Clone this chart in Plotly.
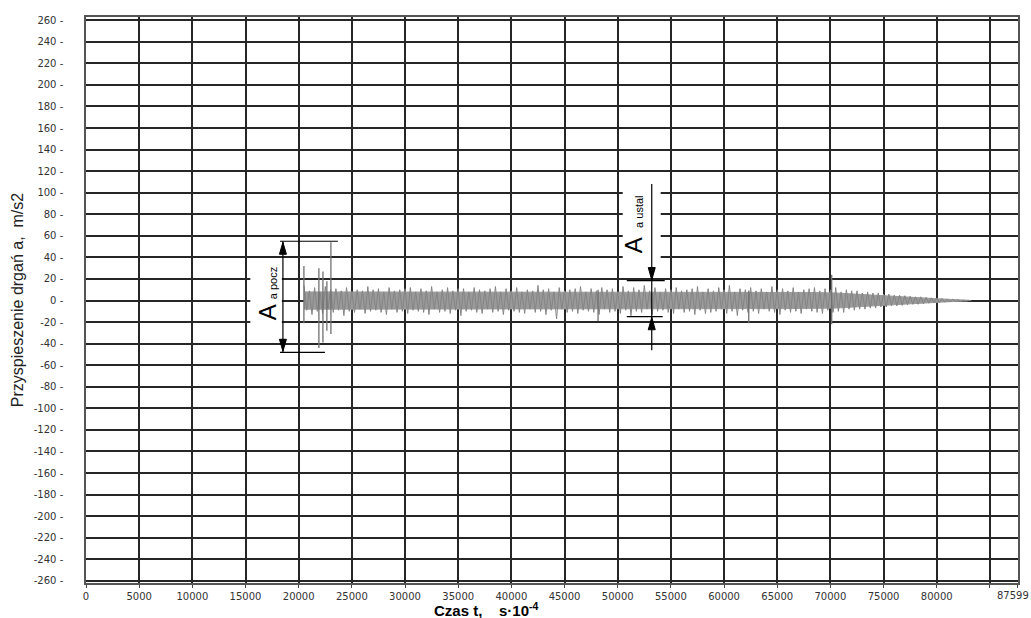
import plotly.graph_objects as go

# ---------------- data ----------------
x_tick_vals = [0, 5000, 10000, 15000, 20000, 25000, 30000, 35000, 40000,
               45000, 50000, 55000, 60000, 65000, 70000, 75000, 80000, 85000, 87599]
x_tick_text = ["0", "5000", "10000", "15000", "20000", "25000", "30000", "35000", "40000",
               "45000", "50000", "55000", "60000", "65000", "70000", "75000", "80000", "", "87599"]
y_tick_vals = [260, 240, 220, 200, 180, 160, 140, 120, 100, 80, 60, 40, 20, 0,
               -20, -40, -60, -80, -100, -120, -140, -160, -180, -200, -220, -240, -260]

# signal peaks (at peak_t) and troughs (at trough_t), every 500 time units
peak_t = list(range(20500, 83001, 500))
trough_t = list(range(20750, 83251, 500))
peak_val = [14, 9, 12, 8, 13, 10, 11, 9, 12, 8,
            10, 9, 13, 10, 11, 8, 12, 9, 10, 11,
            12, 8, 11, 9, 13, 8, 10, 12, 9, 11,
            11, 8, 12, 10, 9, 11, 13, 8, 11, 9,
            12, 8, 10, 9, 14, 10, 11, 8, 12, 9,
            10, 11, 13, 8, 11, 9, 12, 10, 11, 8,
            13, 9, 12, 10, 14, 9, 12, 8, 11, 10,
            12, 9, 10, 11, 13, 8, 11, 9, 12, 10,
            14, 8, 11, 10, 12, 9, 11, 8, 13, 10,
            11, 9, 12, 8, 10, 11, 12, 9, 11, 10,
            12, 8, 10, 9, 9, 7, 8, 7, 7, 6,
            6, 5, 5, 4.5, 4, 3.5, 3.5, 3, 2.5, 2,
            2, 1.5, 1.2, 0.8, 0.5, 0.2]
trough_val = [-9, -13, -10, -12, -8, -11, -9, -14, -10, -11,
              -8, -12, -10, -9, -11, -13, -8, -11, -10, -12,
              -9, -10, -11, -13, -8, -11, -10, -12, -9, -14,
              -10, -9, -11, -12, -8, -11, -10, -13, -9, -10,
              -11, -12, -8, -11, -10, -13, -9, -17, -8, -11,
              -10, -12, -9, -10, -11, -13, -8, -11, -10, -12,
              -9, -14, -10, -11, -8, -13, -10, -9, -11, -12,
              -8, -11, -10, -13, -9, -12, -11, -10, -8, -12,
              -10, -14, -9, -11, -10, -12, -8, -10, -11, -13,
              -9, -11, -10, -12, -8, -10, -11, -12, -9, -11,
              -10, -11, -8, -9, -8, -8, -7, -7, -6, -6,
              -5, -5, -4.5, -4, -3.5, -3.5, -3, -2.5, -2, -2,
              -1.5, -1.2, -1, -0.6, -0.4, -0.2]

# dense core of the signal band
core_t = [20500, 23000, 25500, 28000, 30500, 33000, 35500, 38000, 40500, 43000,
          45500, 48000, 50500, 53000, 55500, 58000, 60500, 63000, 65500, 68000,
          70500, 73000, 75500, 78000, 80500, 83000]
core_hi = [8, 8, 7.5, 7.5, 7.5, 7.5, 7.5, 7.5, 7.5, 7.5, 7.5, 7.5, 8, 8, 7.5, 7.5,
           7.5, 7.5, 7.5, 7.5, 7, 5.5, 4, 2.6, 1.4, 0.2]
core_lo = [-8, -8, -7.5, -7.5, -7.5, -7.5, -7.5, -7.5, -7.5, -7.5, -7.5, -7.5, -8, -8,
           -7.5, -7.5, -7.5, -7.5, -7.5, -7.5, -7, -5.5, -4, -2.6, -1.4, -0.2]

# isolated spikes
spike_t = [20490, 21900, 22280, 22650, 23030, 48150, 62320, 70120]
spike_hi = [32, 30, 27, 18, 54, 10, 9, 24]
spike_lo = [-21, -44, -39, -28, -31, -19, -21, -22]

# annotation geometry (data units)
pocz_t, pocz_top, pocz_bot = 18517, 55, -48
pocz_left, pocz_right_top, pocz_right_bot = 18240, 23690, 22470
ustal_t, ustal_hi, ustal_lo = 53200, 18.5, -15
ustal_line_top, ustal_line_bot = 108, -46
ustal_left, ustal_right_top, ustal_right_bot = 50850, 54420, 54230

# ---------------- figure ----------------
fig = go.Figure()

fig.add_trace(go.Scatter(x=core_t + core_t[::-1], y=core_hi + core_lo[::-1], mode="lines",
                         fill="toself", fillcolor="#9a9a9a", line=dict(color="#9a9a9a", width=1),
                         hoverinfo="skip"))

zx, zy = [], []
for tp, vp, tt, vt in zip(peak_t, peak_val, trough_t, trough_val):
    zx += [tp, tt]
    zy += [vp, vt]
fig.add_trace(go.Scatter(x=zx, y=zy, mode="lines",
                         line=dict(color="#858585", width=1), hoverinfo="skip"))

sx, sy = [], []
for t, hi, lo in zip(spike_t, spike_hi, spike_lo):
    sx += [t, t, None]
    sy += [hi, lo, None]
fig.add_trace(go.Scatter(x=sx, y=sy, mode="lines",
                         line=dict(color="#707070", width=1.3), hoverinfo="skip"))

px_per_t = 932 / 87640.0
px_per_y = 565.5 / 525.0
hw = 3.5 / px_per_t
ah = 13 / px_per_y

shapes = []
shapes.append(dict(type="rect", layer="between", x0=15450, x1=18420, y0=-28, y1=35,
                   fillcolor="white", line=dict(width=0)))
shapes.append(dict(type="rect", layer="between", x0=50470, x1=54040, y0=31, y1=110,
                   fillcolor="white", line=dict(width=0)))

blk = dict(color="black", width=1.2)
shapes += [
    dict(type="line", x0=pocz_t, x1=pocz_t, y0=pocz_bot, y1=pocz_top, line=blk),
    dict(type="line", x0=pocz_left, x1=pocz_right_top, y0=pocz_top, y1=pocz_top, line=blk),
    dict(type="line", x0=pocz_left, x1=pocz_right_bot, y0=pocz_bot, y1=pocz_bot, line=blk),
    dict(type="path", path=f"M {pocz_t-hw},{pocz_top-ah} L {pocz_t},{pocz_top-1} L {pocz_t+hw},{pocz_top-ah} Z",
         fillcolor="black", line=dict(color="black", width=1)),
    dict(type="path", path=f"M {pocz_t-hw},{pocz_bot+ah} L {pocz_t},{pocz_bot+1} L {pocz_t+hw},{pocz_bot+ah} Z",
         fillcolor="black", line=dict(color="black", width=1)),
    dict(type="line", x0=ustal_t, x1=ustal_t, y0=ustal_line_bot, y1=ustal_line_top, line=blk),
    dict(type="line", x0=ustal_left, x1=ustal_right_top, y0=ustal_hi, y1=ustal_hi, line=blk),
    dict(type="line", x0=ustal_left, x1=ustal_right_bot, y0=ustal_lo, y1=ustal_lo, line=blk),
    dict(type="path", path=f"M {ustal_t-hw},{ustal_hi+ah} L {ustal_t},{ustal_hi+0.5} L {ustal_t+hw},{ustal_hi+ah} Z",
         fillcolor="black", line=dict(color="black", width=1)),
    dict(type="path", path=f"M {ustal_t-hw},{ustal_lo-ah} L {ustal_t},{ustal_lo-0.5} L {ustal_t+hw},{ustal_lo-ah} Z",
         fillcolor="black", line=dict(color="black", width=1)),
]

font_ar = "Liberation Sans, Arial, sans-serif"
tickfont = dict(family="DejaVu Sans, Verdana, sans-serif", size=10, color="#333333")

# last tick label is placed as an annotation so that it stays inside the page
axis_tick_text = x_tick_text[:-1] + [""]

annotations = [
    dict(x=17013, y=-11, text="A", textangle=-90, showarrow=False,
         font=dict(family=font_ar, size=24, color="black")),
    dict(x=17577, y=16, text="a pocz", textangle=-90, showarrow=False,
         font=dict(family=font_ar, size=11, color="black")),
    dict(x=51508, y=51, text="A", textangle=-90, showarrow=False,
         font=dict(family=font_ar, size=24, color="black")),
    dict(x=51978, y=82, text="a ustal", textangle=-90, showarrow=False,
         font=dict(family=font_ar, size=11, color="black")),
    dict(x=x_tick_vals[-1], xref="x", y=0, yref="paper", text=x_tick_text[-1],
         xanchor="right", yanchor="top", xshift=13, yshift=-5, showarrow=False,
         font=tickfont),
    dict(xref="paper", yref="paper", x=0.43, y=-0.047, yanchor="middle",
         text="<b>Czas t,\u00a0\u00a0\u00a0\u00a0s\u00b710<sup>-4</sup></b>", showarrow=False,
         font=dict(family=font_ar, size=15, color="black")),
]

fig.update_layout(
    width=1031, height=618,
    margin=dict(l=86, r=13, t=17, b=35, autoexpand=False),
    paper_bgcolor="white", plot_bgcolor="white",
    showlegend=False, shapes=shapes, annotations=annotations,
)
fig.update_xaxes(range=[0, 87640], tickmode="array", tickvals=x_tick_vals, ticktext=axis_tick_text,
                 showgrid=True, gridcolor="#262626", gridwidth=1.6, zeroline=False,
                 showline=True, mirror=True, linecolor="#555555", linewidth=1.5,
                 ticks="outside", ticklen=3, tickcolor="#444444", tickwidth=1,
                 tickfont=tickfont, automargin=False)
fig.update_yaxes(range=[-262, 263], tickmode="array", tickvals=y_tick_vals,
                 ticktext=[f"{v} -" for v in y_tick_vals],
                 showgrid=True, gridcolor="#262626", gridwidth=1.6, zeroline=False,
                 showline=True, mirror=True, linecolor="#555555", linewidth=1.5,
                 ticks="", ticklabelstandoff=19, tickfont=tickfont, automargin=False,
                 title=dict(text="Przyspieszenie drgań a,  m/s2", standoff=6,
                            font=dict(family=font_ar, size=16, color="#222222")))

fig.write_html("out.html")
